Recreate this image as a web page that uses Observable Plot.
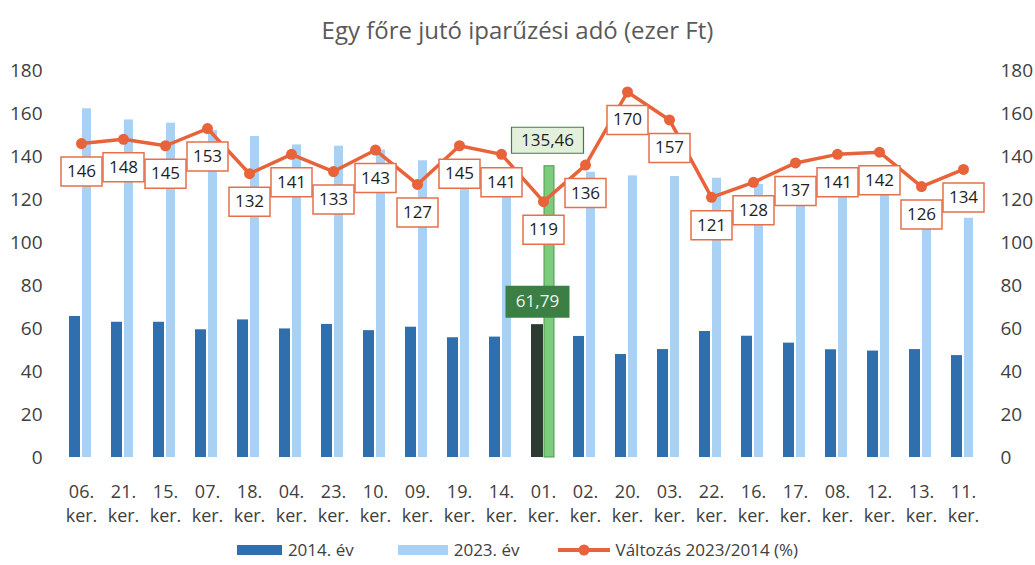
<!DOCTYPE html>
<html><head><meta charset="utf-8">
<script src="https://cdn.jsdelivr.net/npm/d3@7"></script>
<script src="https://cdn.jsdelivr.net/npm/@observablehq/plot@0.6"></script>
<style>
html,body{margin:0;padding:0;background:#fff;overflow:hidden;font-family:"Open Sans",sans-serif;}
#title{height:50px;box-sizing:border-box;padding-top:14px;text-align:center;font-size:24px;line-height:32px;color:#595959;}
#legend{height:45px;box-sizing:border-box;padding-top:15px;display:flex;justify-content:center;align-items:center;font-size:17px;color:#404040;line-height:30px;}
#legend .item{display:flex;align-items:center;}
#legend svg{margin-right:6px;}
</style></head><body>
<div id="title">Egy főre jutó iparűzési adó (ezer Ft)</div>
<div id="chart"></div>
<div id="legend">
  <span class="item" style="margin-right:44px"><svg width="45" height="10"><rect width="45" height="10" fill="#2f6fad"/></svg>2014. év</span>
  <span class="item" style="margin-right:38px"><svg width="50" height="10"><rect width="50" height="10" fill="#a9d1f4"/></svg>2023. év</span>
  <span class="item"><svg width="52" height="14"><line x1="0" y1="7" x2="52" y2="7" stroke="#e8623a" stroke-width="4"/><circle cx="26" cy="7" r="5.5" fill="#e8623a"/></svg>Változás 2023/2014 (%)</span>
</div>
<script>
const districts = ["06.","21.","15.","07.","18.","04.","23.","10.","09.","19.","14.","01.","02.","20.","03.","22.","16.","17.","08.","12.","13.","11."];
const v2014 = [65.6,62.9,62.9,59.4,64.0,59.8,61.9,59.0,60.6,55.7,56.0,61.79,56.3,47.9,50.2,58.6,56.4,53.2,50.1,49.5,50.2,47.4];
const v2023 = [162.2,157.0,155.5,152.0,149.3,145.4,144.8,143.0,138.0,137.0,133.0,135.46,132.7,131.0,130.7,129.9,127.0,125.0,124.0,123.0,112.0,111.3];
const change = [146,148,145,153,132,141,133,143,127,145,141,119,136,170,157,121,128,137,141,142,126,134];
const yTicks = [0,20,40,60,80,100,120,140,160,180];
const highlight = "01.";

const rows = districts.map((d,i)=>({district:d, v2014:v2014[i], v2023:v2023[i], change:change[i]}));
const hl = rows.filter(d=>d.district===highlight);
const rest = rows.filter(d=>d.district!==highlight);
const box = (w,h)=>({draw(ctx){ctx.rect(-w/2,-h/2,w,h);}});
const fmt = v => String(v).replace(".", ",");

const chart = Plot.plot({
  width:1035, height:470,
  marginLeft:59, marginRight:51, marginTop:20, marginBottom:63,
  x:{domain:districts, padding:0, label:null},
  y:{domain:[0,180], label:null},
  style:{fontFamily:"Open Sans, sans-serif", fontSize:"18px", color:"#404040", background:"white", overflow:"visible"},
  marks:[
    Plot.axisY({ticks:yTicks, tickSize:0, tickPadding:17, fontSize:19, label:null}),
    Plot.axisY({anchor:"right", ticks:yTicks, tickSize:0, tickPadding:16, fontSize:19, label:null}),
    Plot.axisX({tickSize:0, tickPadding:24, fontSize:18, lineHeight:1.3, tickFormat:d=>d+"\nker.", label:null}),
    Plot.barY(rest,{x:"district", y:"v2023", fill:"#a9d1f4", insetLeft:22, insetRight:11}),
    Plot.barY(hl,{x:"district", y:"v2023", fill:"#7dcb7d", stroke:"#4f9a4f", strokeWidth:1, insetLeft:22, insetRight:10}),
    Plot.barY(rest,{x:"district", y:"v2014", fill:"#2f6fad", insetLeft:9, insetRight:22}),
    Plot.barY(hl,{x:"district", y:"v2014", fill:"#2c3a31", insetLeft:9, insetRight:21}),
    Plot.line(rows,{x:"district", y:"change", stroke:"#e8623a", strokeWidth:3.5}),
    Plot.dot(rows,{x:"district", y:"change", r:5.5, fill:"#e8623a"}),
    Plot.dot(rows,{x:"district", y:"change", dy:28, symbol:box(41,29), fill:"white", stroke:"#e5704a", strokeWidth:1.5}),
    Plot.text(rows,{x:"district", y:"change", dy:28, text:d=>String(d.change), fontSize:17, fill:"#1e1e1e"}),
    Plot.dot(hl,{x:"district", y:"v2023", dx:4, dy:-26, symbol:box(72,26), fill:"#e3f1dc", stroke:"#3f7f46", strokeWidth:1.2}),
    Plot.text(hl,{x:"district", y:"v2023", dx:4, dy:-26, text:d=>fmt(d.v2023), fontSize:17, fill:"#1e1e1e"}),
    Plot.dot(hl,{x:"district", y:"v2014", dx:-6, dy:-23, symbol:box(64,32), fill:"#3b7f45"}),
    Plot.text(hl,{x:"district", y:"v2014", dx:-6, dy:-23, text:d=>fmt(d.v2014), fontSize:17, fill:"#eef5ee"})
  ]
});
document.getElementById("chart").appendChild(chart);
</script>
</body></html>
